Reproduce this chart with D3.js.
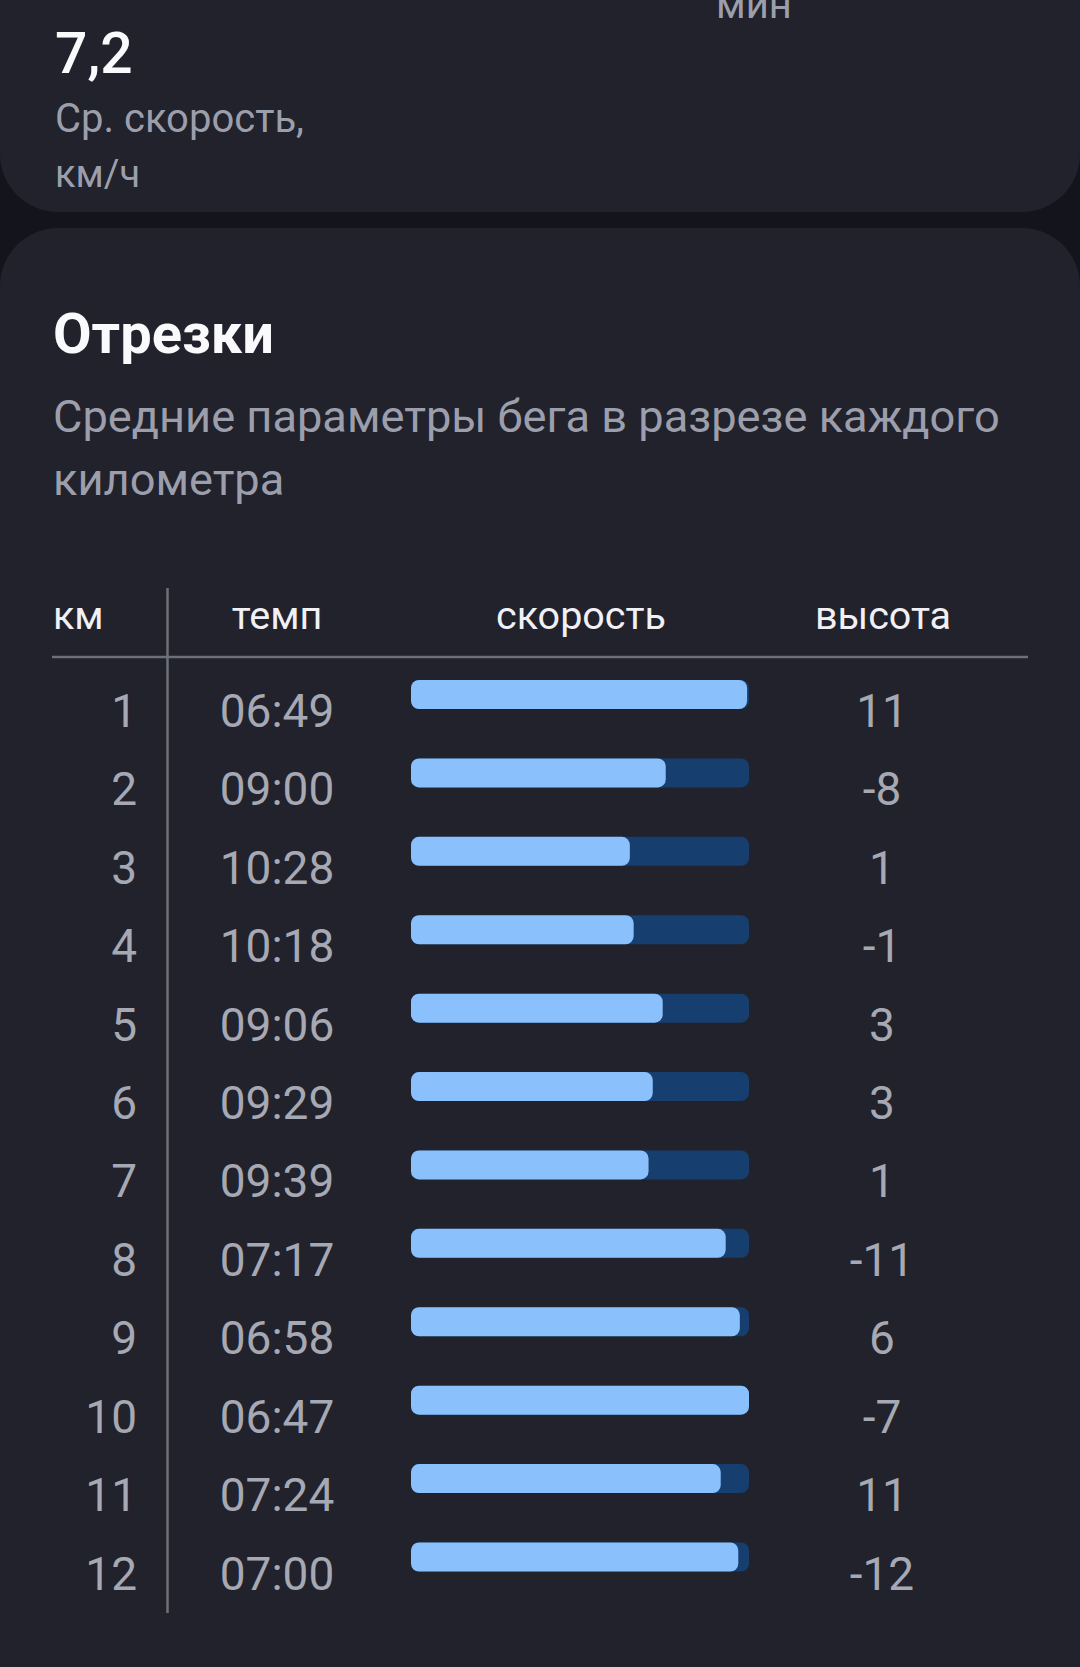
<!DOCTYPE html>
<html>
<head>
<meta charset="utf-8">
<script src="https://cdn.jsdelivr.net/npm/d3@7/dist/d3.min.js"></script>
<style>
    html, body { margin: 0; padding: 0; background: #14151c; }
    svg { display: block; font-family: Roboto, "Noto Sans", sans-serif; }
</style>
</head>
<body>
<svg id="splits" width="1080" height="1667"></svg>
<script>
// km segments of the run
const kms = [1, 2, 3, 4, 5, 6, 7, 8, 9, 10, 11, 12];
// pace per km, as shown
const paces = ["06:49", "09:00", "10:28", "10:18", "09:06", "09:29", "09:39", "07:17", "06:58", "06:47", "07:24", "07:00"];
// speed per km, km/h
const speeds = [8.80, 6.67, 5.73, 5.83, 6.59, 6.33, 6.22, 8.24, 8.61, 8.85, 8.11, 8.57];
// elevation change per km, m
const heights = [11, -8, 1, -1, 3, 3, 1, -11, 6, -7, 11, -12];
// column headers
const columns = ["км", "темп", "скорость", "высота"];

let svg = d3.select('svg#splits'),
    width = +svg.attr("width"),
    height = +svg.attr("height");

// cards
svg.append('rect')
    .attr('x', 0).attr('y', -80)
    .attr('width', width).attr('height', 292)
    .attr('rx', 58)
    .style('fill', '#21222b');
svg.append('rect')
    .attr('x', 0).attr('y', 228)
    .attr('width', width).attr('height', height)
    .attr('rx', 58)
    .style('fill', '#21222b');

// top card leftovers
svg.append('text').attr('x', 716).attr('y', 18)
    .style('font-size', '40px').style('fill', '#9c9fab').text('мин');
svg.append('text').attr('x', 55).attr('y', 73)
    .style('font-size', '57px').style('font-weight', 500).style('fill', '#fafafc').text('7,2');
svg.append('text').attr('x', 55).attr('y', 132)
    .style('font-size', '40px').style('fill', '#9c9fab').text('Ср. скорость,');
svg.append('text').attr('x', 55).attr('y', 187)
    .style('font-size', '38px').style('fill', '#9c9fab').text('км/ч');

// title and subtitle
svg.append('text').attr('x', 53).attr('y', 353)
    .style('font-size', '56px').style('font-weight', 700).style('fill', '#fafafc').text('Отрезки');
svg.append('text').attr('x', 53).attr('y', 432)
    .style('font-size', '45.2px').style('fill', '#9c9fab').text('Средние параметры бега в разрезе каждого');
svg.append('text').attr('x', 53).attr('y', 495)
    .style('font-size', '45.2px').style('fill', '#9c9fab').text('километра');

// column positions
let colX = d3.scaleOrdinal()
    .domain(columns)
    .range([53, 277, 581, 883]);

svg.append('g').selectAll('text')
    .data(columns)
    .enter().append('text')
    .attr('x', d => colX(d))
    .attr('y', 629)
    .style('text-anchor', (d, i) => i === 0 ? 'start' : 'middle')
    .style('font-size', '39.5px')
    .style('fill', '#f0f0f5')
    .text(d => d);

// grid lines
svg.append('line')
    .attr('x1', 52).attr('x2', 1028)
    .attr('y1', 657).attr('y2', 657)
    .style('stroke', '#6e7079').style('stroke-width', 2.5);
svg.append('line')
    .attr('x1', 167.5).attr('x2', 167.5)
    .attr('y1', 588).attr('y2', 1613)
    .style('stroke', '#6e7079').style('stroke-width', 2.5);

// rows: y gives text baseline of each km
let yScale = d3.scalePoint()
    .domain(kms)
    .range([727, 1589.5]);

let xScale = d3.scaleLinear()
    .domain([0, d3.max(speeds)])
    .range([411, 749]);

let barH = 29,
    barOff = -47;

let rows = svg.append('g').selectAll('g.row')
    .data(kms)
    .enter().append('g')
    .attr('class', 'row')
    .attr('transform', d => 'translate(0,' + yScale(d) + ')');

rows.append('text')
    .attr('x', 137)
    .style('text-anchor', 'end')
    .style('font-size', '46px')
    .style('fill', '#a6a8b3')
    .text(d => d);

rows.append('text')
    .attr('x', colX('темп'))
    .style('text-anchor', 'middle')
    .style('font-size', '46px')
    .style('fill', '#a6a8b3')
    .text((d, i) => paces[i]);

// track
rows.append('rect')
    .attr('x', xScale(0))
    .attr('y', barOff)
    .attr('width', xScale(d3.max(speeds)) - xScale(0))
    .attr('height', barH)
    .attr('rx', 8)
    .style('fill', '#163f70');

// speed bar
rows.append('rect')
    .attr('x', xScale(0))
    .attr('y', barOff)
    .attr('width', (d, i) => xScale(speeds[i]) - xScale(0))
    .attr('height', barH)
    .attr('rx', 8)
    .style('fill', '#8ac1fc');

rows.append('text')
    .attr('x', 882)
    .style('text-anchor', 'middle')
    .style('font-size', '46px')
    .style('fill', '#a6a8b3')
    .text((d, i) => heights[i]);
</script>
</body>
</html>
